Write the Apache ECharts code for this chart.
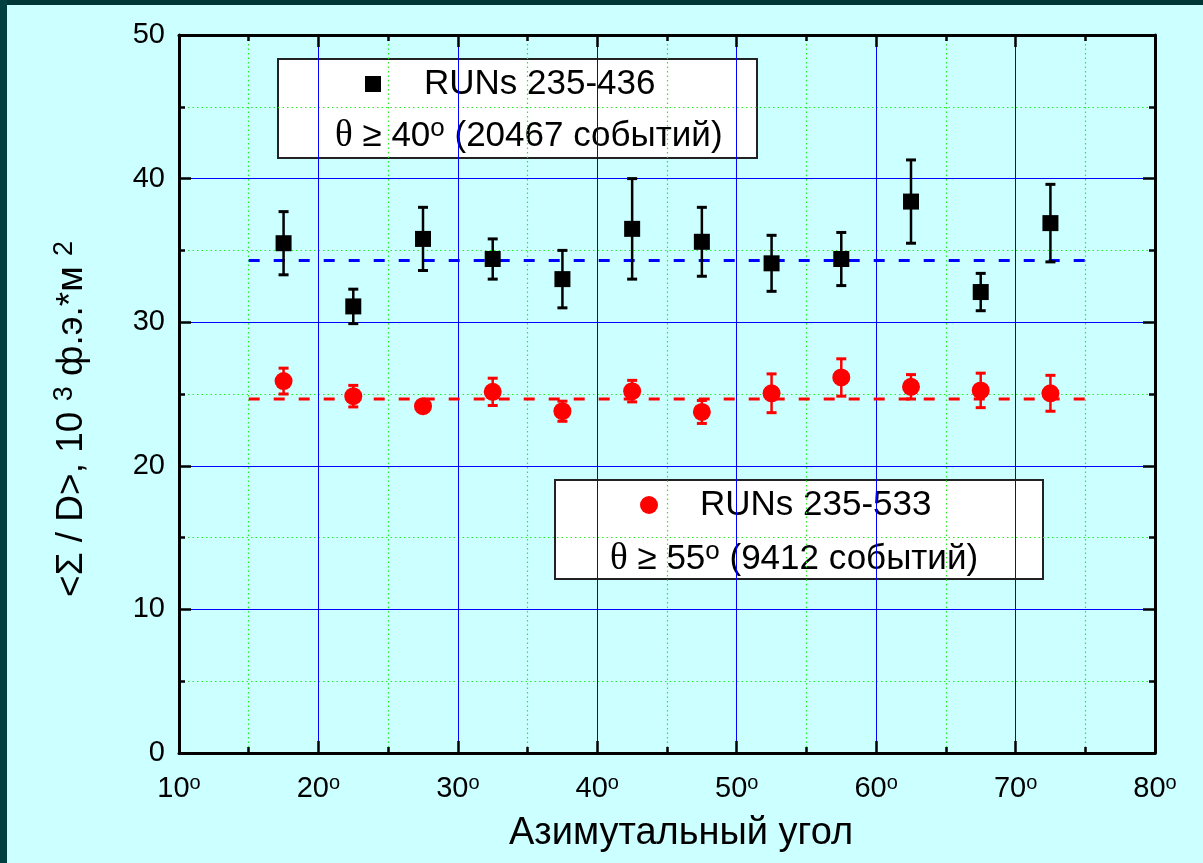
<!DOCTYPE html>
<html>
<head>
<meta charset="utf-8">
<script src="https://cdn.jsdelivr.net/npm/echarts@6/dist/echarts.min.js"></script>
<style>
  html, body { margin: 0; padding: 0; background: #ccffff; }
  #chart { width: 1203px; height: 863px; }
</style>
</head>
<body>
<div id="chart"></div>
<script>
// азимутальный угол, центры бинов
const angles = [17.5, 22.5, 27.5, 32.5, 37.5, 42.5, 47.5, 52.5, 57.5, 62.5, 67.5, 72.5];

// RUNs 235-436, theta >= 40
const runs436 = [35.5, 31.1, 35.8, 34.4, 33.0, 36.5, 35.6, 34.1, 34.4, 38.4, 32.1, 36.9];
const runs436Err = [2.2, 1.2, 2.2, 1.4, 2.0, 3.5, 2.4, 1.95, 1.85, 2.9, 1.3, 2.7];

// RUNs 235-533, theta >= 55
const runs533 = [25.9, 24.85, 24.15, 25.15, 23.8, 25.2, 23.75, 25.05, 26.15, 25.5, 25.25, 25.05];
const runs533Err = [0.9, 0.75, 0.4, 0.95, 0.7, 0.75, 0.8, 1.35, 1.3, 0.85, 1.2, 1.25];

// средние уровни (пунктир)
const meanRange = [15, 75];
const mean436 = 34.3;
const mean533 = 24.65;

const FONT = "'Liberation Sans', Arial, sans-serif";
const SERIF = "'Liberation Serif', 'Times New Roman', serif";

const chart = echarts.init(document.getElementById("chart"));

// планки ошибок
function errorBars(values, errs, color) {
  return {
    type: "custom",
    data: angles.map((a, i) => [a, values[i] - errs[i], values[i] + errs[i]]),
    encode: { x: 0, y: [1, 2] },
    z: 3,
    silent: true,
    renderItem(params, api) {
      const lo = api.coord([api.value(0), api.value(1)]);
      const hi = api.coord([api.value(0), api.value(2)]);
      const cap = 5;
      const style = { stroke: color, lineWidth: 2.5 };
      return {
        type: "group",
        children: [
          { type: "line", shape: { x1: lo[0], y1: lo[1], x2: hi[0], y2: hi[1] }, style },
          { type: "line", shape: { x1: lo[0] - cap, y1: lo[1], x2: lo[0] + cap, y2: lo[1] }, style: { stroke: color, lineWidth: 3 } },
          { type: "line", shape: { x1: hi[0] - cap, y1: hi[1], x2: hi[0] + cap, y2: hi[1] }, style: { stroke: color, lineWidth: 3 } },
        ],
      };
    },
  };
}

function meanLine(value, color) {
  return {
    type: "line",
    data: meanRange.map((x) => [x, value]),
    symbol: "none",
    z: 2,
    silent: true,
    lineStyle: { color: color, width: 3, type: [11, 14] },
  };
}

const tickStyle = { color: "#000", width: 2.5 };

function xAxisBase(position) {
  return {
    type: "value",
    position: position,
    min: 10,
    max: 80,
    interval: 10,
    axisLine: { onZero: false, lineStyle: { color: "#000", width: 3 } },
    axisTick: { inside: true, length: 12, lineStyle: tickStyle },
    minorTick: { show: true, splitNumber: 2, length: 6, lineStyle: tickStyle },
  };
}

function yAxisBase(position) {
  return {
    type: "value",
    position: position,
    min: 0,
    max: 50,
    interval: 10,
    axisLine: { onZero: false, lineStyle: { color: "#000", width: 3 } },
    axisTick: { inside: true, length: 12, lineStyle: tickStyle },
    minorTick: { show: true, splitNumber: 2, length: 6, lineStyle: tickStyle },
  };
}

const gridMajor = { show: true, lineStyle: { color: "#0000ff", width: 1 } };
const gridMinor = { show: true, lineStyle: { color: "#22ee22", width: 1.2, type: [1.5, 3] } };

const legendRich = {
  th: { fontFamily: SERIF, fontSize: 37, fill: "#000", lineHeight: 40 },
  t: { fontFamily: FONT, fontSize: 35, fill: "#000", lineHeight: 40 },
  s: { fontFamily: FONT, fontSize: 26, fill: "#000", verticalAlign: "top", lineHeight: 14 },
};

const option = {
  backgroundColor: "#ccffff",
  animation: false,
  grid: { left: 179, right: 48, top: 35, bottom: 110 },
  xAxis: [
    {
      ...xAxisBase("bottom"),
      splitLine: gridMajor,
      minorSplitLine: gridMinor,
      axisLabel: {
        margin: 20,
        color: "#000",
        formatter: (v) => "{n|" + v + "}{s|o}",
        rich: {
          n: { fontFamily: FONT, fontSize: 29, color: "#000", lineHeight: 32 },
          s: { fontFamily: FONT, fontSize: 20, color: "#000", verticalAlign: "top", lineHeight: 12 },
        },
      },
      name: "Азимутальный угол",
      nameLocation: "middle",
      nameGap: 62,
      nameTextStyle: { fontFamily: FONT, fontSize: 38, color: "#000", padding: [0, 0, 0, 28] },
    },
    {
      ...xAxisBase("top"),
      axisLabel: { show: false },
      splitLine: { show: false },
    },
  ],
  yAxis: [
    {
      ...yAxisBase("left"),
      splitLine: gridMajor,
      minorSplitLine: gridMinor,
      axisLabel: { margin: 14, color: "#000", fontFamily: FONT, fontSize: 29 },
    },
    {
      ...yAxisBase("right"),
      axisLabel: { show: false },
      splitLine: { show: false },
    },
  ],
  series: [
    meanLine(mean436, "#0000ff"),
    meanLine(mean533, "#ff0000"),
    errorBars(runs436, runs436Err, "#000"),
    errorBars(runs533, runs533Err, "#ff0000"),
    {
      name: "RUNs 235-436",
      type: "scatter",
      data: angles.map((a, i) => [a, runs436[i]]),
      symbol: "rect",
      symbolSize: 16,
      itemStyle: { color: "#000", opacity: 1 },
      z: 4,
    },
    {
      name: "RUNs 235-533",
      type: "scatter",
      data: angles.map((a, i) => [a, runs533[i]]),
      symbol: "circle",
      symbolSize: 18,
      itemStyle: { color: "#ff0000", opacity: 1 },
      z: 4,
    },
  ],
  graphic: [
    // тёмная рамка слайда
    { type: "rect", shape: { x: 0, y: 0, width: 1203, height: 5 }, style: { fill: "#003636" } },
    { type: "rect", shape: { x: 0, y: 0, width: 7, height: 863 }, style: { fill: "#004040" } },
    // подпись оси Y
    {
      type: "text",
      x: 72,
      y: 419,
      rotation: Math.PI / 2,
      style: {
        text: "{t|<Σ / D>, 10 }{s|3}{t| ф.э.*м }{s|2}",
        align: "center",
        verticalAlign: "middle",
        rich: {
          t: { fontFamily: FONT, fontSize: 37, fill: "#000", lineHeight: 42 },
          s: { fontFamily: FONT, fontSize: 27, fill: "#000", verticalAlign: "top", lineHeight: 22 },
        },
      },
    },
    // легенда 1
    {
      type: "group",
      children: [
        { type: "rect", shape: { x: 278, y: 59, width: 479, height: 99 }, style: { fill: "#fff", stroke: "#222", lineWidth: 2 } },
        { type: "rect", shape: { x: 365, y: 76, width: 16, height: 16 }, style: { fill: "#000" } },
        {
          type: "text", x: 424, y: 84,
          style: { text: "RUNs 235-436", fontFamily: FONT, fontSize: 35, fill: "#000", align: "left", verticalAlign: "middle" },
        },
        {
          type: "text", x: 335, y: 136,
          style: {
            text: "{th|θ}{t| ≥ 40}{s|o}{t| (20467 событий)}",
            align: "left",
            verticalAlign: "middle",
            rich: legendRich,
          },
        },
      ],
    },
    // легенда 2
    {
      type: "group",
      children: [
        { type: "rect", shape: { x: 555, y: 480, width: 488, height: 99 }, style: { fill: "#fff", stroke: "#222", lineWidth: 2 } },
        { type: "circle", shape: { cx: 649, cy: 505, r: 9 }, style: { fill: "#ff0000" } },
        {
          type: "text", x: 700, y: 505,
          style: { text: "RUNs 235-533", fontFamily: FONT, fontSize: 35, fill: "#000", align: "left", verticalAlign: "middle" },
        },
        {
          type: "text", x: 610, y: 559,
          style: {
            text: "{th|θ}{t| ≥ 55}{s|o}{t| (9412 событий)}",
            align: "left",
            verticalAlign: "middle",
            rich: legendRich,
          },
        },
      ],
    },
  ],
};

chart.setOption(option);
</script>
</body>
</html>
